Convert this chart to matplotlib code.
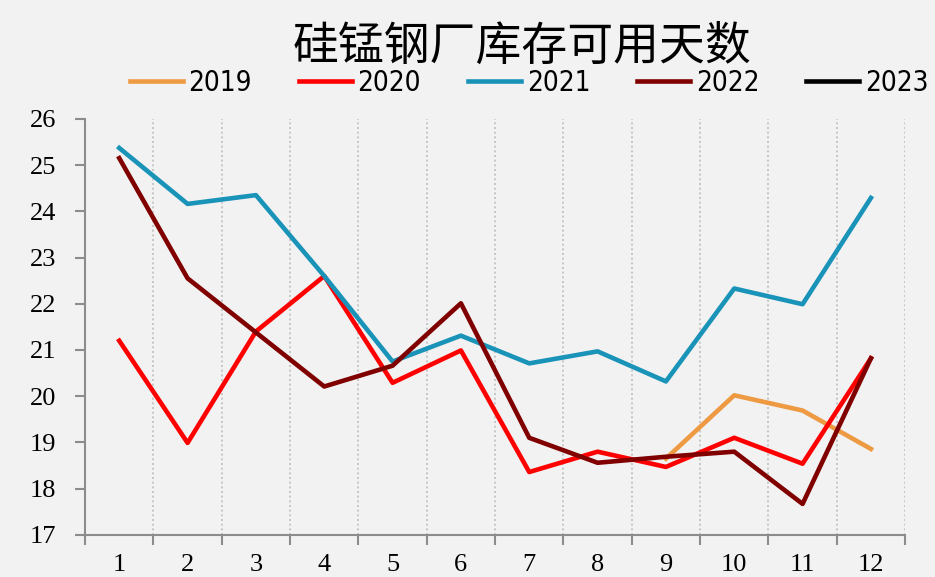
import matplotlib
matplotlib.use("Agg")
import matplotlib.pyplot as plt
from matplotlib.font_manager import FontProperties
import numpy as np

# data
months = ["1", "2", "3", "4", "5", "6", "7", "8", "9", "10", "11", "12"]
nan = np.nan
y2019 = [nan, nan, nan, nan, nan, nan, nan, nan, 18.65, 20.02, 19.69, 18.86]
y2020 = [21.2, 18.99, 21.4, 22.6, 20.29, 20.99, 18.36, 18.8, 18.47, 19.1, 18.54, 20.82]
y2021 = [25.37, 24.16, 24.35, 22.6, 20.75, 21.31, 20.71, 20.97, 20.32, 22.33, 21.99, 24.29]
y2022 = [25.15, 22.55, 21.38, 20.21, 20.66, 22.01, 19.1, 18.56, 18.69, 18.8, 17.67, 20.82]
y2023 = [nan] * 12

series = [("2019", y2019, "#ED9A42"),
          ("2020", y2020, "#FF0000"),
          ("2021", y2021, "#1A93B8"),
          ("2022", y2022, "#800000"),
          ("2023", y2023, "#000000")]

bg = "#F2F2F2"
fig = plt.figure(figsize=(9.35, 5.77), dpi=100, facecolor=bg)
ax = fig.add_axes([0.091, 0.073, 0.877, 0.721], facecolor=bg)

x = np.arange(len(months))
handles = []
for name, vals, col in series:
    h, = ax.plot(x, vals, color=col, lw=3.3, label=name)
    handles.append(h)

ax.set_xlim(-0.5, len(months) - 0.5)
ax.set_ylim(17, 26)
ax.set_yticks(range(17, 27))

# category boundaries as major ticks, labels at centres
ax.set_xticks(np.arange(-0.5, len(months), 1.0))
ax.set_xticklabels([])
ax.set_xticks(x, minor=True)
ax.set_xticklabels(months, minor=True)
for b in np.arange(0.5, len(months), 1.0):
    ax.axvline(b, color="#BFBFBF", lw=1.2, ls=(0, (1.2, 1.6)), zorder=0)

for s in ["top", "right"]:
    ax.spines[s].set_visible(False)
for s in ["left", "bottom"]:
    ax.spines[s].set_color("#8C8C8C")
    ax.spines[s].set_linewidth(1.5)

serif = ["Liberation Serif", "DejaVu Serif"]
ax.tick_params(axis="x", which="major", length=7, width=1.5, color="#8C8C8C", direction="out")
ax.tick_params(axis="x", which="minor", length=0, pad=14, labelsize=19)
ax.tick_params(axis="y", length=7, width=1.5, color="#8C8C8C", direction="out", pad=14, labelsize=19)
for lab in ax.get_xticklabels(minor=True) + ax.get_yticklabels():
    lab.set_family(serif)

fig.text(0.558, 0.92, "硅锰钢厂库存可用天数", ha="center", va="center",
         fontsize=33, family=["Noto Sans CJK SC", "DejaVu Sans"])

leg_font = FontProperties(family="DejaVu Sans", stretch="condensed", size=20)
leg = fig.legend(handles=handles, loc="center", bbox_to_anchor=(0.566, 0.857), ncol=5,
                 frameon=False, handlelength=1.9, handletextpad=0.2, columnspacing=1.7,
                 prop=leg_font)

fig.savefig("out.png", dpi=100, facecolor=bg)
